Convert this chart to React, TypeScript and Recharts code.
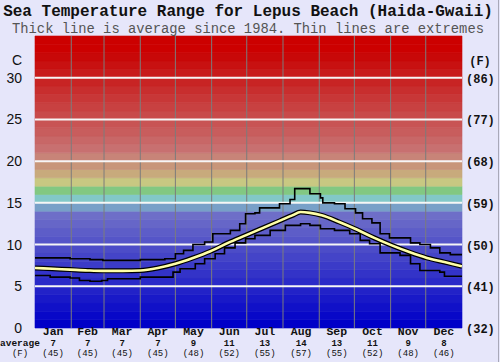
import { LineChart, Line, XAxis, YAxis, ReferenceArea, ReferenceLine } from 'recharts'

const MONTHS = ['Jan', 'Feb', 'Mar', 'Apr', 'May', 'Jun', 'Jul', 'Aug', 'Sep', 'Oct', 'Nov', 'Dec']
const MONTH_AVG_C = [7, 7, 7, 7, 9, 11, 13, 14, 13, 11, 9, 8]
const MONTH_AVG_F = [45, 45, 45, 45, 48, 52, 55, 57, 55, 52, 48, 46]
const MID_DAYS = [15.5, 45, 74.5, 105, 135.5, 166, 196.5, 227.5, 258, 288.5, 319, 349.5]
const MONTH_EDGES = [31, 59, 90, 120, 151, 181, 212, 243, 273, 304, 334]
const C_TICKS = [0, 5, 10, 15, 20, 25, 30]
const F_LABELS = ['(32)', '(41)', '(50)', '(59)', '(68)', '(77)', '(86)']

// day of year / deg C
const AVG_DAYS = [0, 15, 30, 45, 58, 75, 90, 105, 120, 135, 150, 165, 180, 195, 210, 220, 227, 235, 245, 260, 275, 290, 305, 320, 335, 350, 365]
const AVG_TEMP = [7.2, 7.1, 7.0, 6.9, 6.85, 6.85, 6.9, 7.2, 7.7, 8.4, 9.2, 10.2, 11.1, 12.0, 12.9, 13.5, 13.9, 13.8, 13.5, 12.7, 11.8, 10.8, 9.9, 9.1, 8.4, 7.9, 7.4]

const MAX_DAYS = [0, 21, 30, 47, 58, 90, 111, 120, 127, 135, 145, 152, 167, 175, 180, 188, 192, 209, 218, 222, 231, 235, 244, 246, 256, 265, 274, 280, 288, 295, 303, 321, 329, 338, 346, 355, 365]
const MAX_TEMP = [8.4, 8.4, 8.3, 8.2, 8.1, 8.2, 8.3, 8.9, 9.3, 10.0, 10.3, 11.3, 11.7, 12.5, 13.7, 13.8, 14.4, 14.9, 15.4, 16.7, 16.7, 16.1, 15.6, 15.0, 14.9, 14.3, 13.8, 13.1, 12.6, 11.3, 10.8, 10.2, 10.0, 9.6, 9.0, 8.8, 8.7]

const MIN_DAYS = [0, 13, 30, 38, 47, 57, 62, 90, 118, 124, 137, 145, 154, 162, 171, 180, 188, 201, 214, 227, 235, 244, 256, 269, 278, 286, 295, 312, 321, 329, 346, 350, 365]
const MIN_TEMP = [6.3, 6.1, 6.0, 5.7, 5.6, 5.7, 5.9, 6.1, 6.7, 7.1, 7.7, 8.3, 8.9, 9.6, 10.2, 10.7, 11.1, 11.7, 12.3, 12.5, 12.3, 11.9, 11.7, 11.3, 10.5, 10.1, 9.0, 8.7, 7.7, 6.9, 6.7, 6.2, 6.1]

const avgData = AVG_DAYS.map((d, i) => ({ d, t: AVG_TEMP[i] }))
const maxData = MAX_DAYS.map((d, i) => ({ d, t: MAX_TEMP[i] }))
const minData = MIN_DAYS.map((d, i) => ({ d, t: MIN_TEMP[i] }))

// background colour for each 1 degree band, 0..34
const hex = (n: number) => Math.max(0, Math.min(255, Math.round(n))).toString(16).padStart(2, '0')
const BANDS: string[] = []
for (let k = 0; k < 35; k++) {
  let c: string
  if (k <= 13) {
    const v = k * 110 / 13
    c = '#' + hex(v) + hex(v) + 'c8'
  } else if (k === 14) c = '#78a0c8'
  else if (k === 15) c = '#82c8c8'
  else if (k === 16) c = '#82c882'
  else if (k === 17) c = '#c8c882'
  else if (k === 18) c = '#c8aa7c'
  else if (k === 19) c = '#c8967a'
  else if (k === 20) c = '#c88478'
  else {
    const v = Math.max(0, 112 - (k - 21) * 9.5)
    c = (k >= 33 ? '#cc' : '#c8') + hex(v) + hex(v)
  }
  BANDS.push(c)
}

const MONO = '"Liberation Mono", "DejaVu Sans Mono", monospace'
const SANS = '"Liberation Sans", Arial, sans-serif'

function MonthTick({ x, payload }: any) {
  const i = MID_DAYS.indexOf(payload.value)
  if (i < 0) return null
  return (
    <g>
      <text x={x} y={335} textAnchor="middle" fontFamily={MONO} fontWeight="bold" fontSize={11.5} fill="#111">{MONTHS[i]}</text>
      <text x={x} y={345.5} textAnchor="middle" fontFamily={MONO} fontWeight="bold" fontSize={9} fill="#111">{MONTH_AVG_C[i]}</text>
      <text x={x} y={356} textAnchor="middle" fontFamily={MONO} fontSize={9} fill="#111">({MONTH_AVG_F[i]})</text>
    </g>
  )
}

function CTick({ y, payload }: any) {
  return (
    <text x={22} y={y + 5} textAnchor="end" fontFamily={SANS} fontSize={14} fill="#111">{payload.value}</text>
  )
}

function FTick({ y, payload }: any) {
  const i = C_TICKS.indexOf(payload.value)
  return (
    <text x={466} y={y + 5} textAnchor="start" fontFamily={MONO} fontWeight="bold" fontSize={12} fill="#111">{F_LABELS[i]}</text>
  )
}

export default function App() {
  return (
    <div style={{ position: 'absolute', left: 0, top: 0, width: 500, height: 362, background: '#e6e6fa', overflow: 'hidden' }}>
      <LineChart width={500} height={362} margin={{ top: 36, right: 0, bottom: 0, left: 0 }}>
        <XAxis dataKey="d" type="number" domain={[0, 365]} ticks={MID_DAYS} tick={<MonthTick />} axisLine={false} tickLine={false} height={34} interval={0} allowDataOverflow />
        <YAxis yAxisId="c" type="number" domain={[0, 35]} ticks={C_TICKS} tick={<CTick />} axisLine={false} tickLine={false} width={35} interval={0} allowDataOverflow />
        <YAxis yAxisId="f" orientation="right" type="number" domain={[0, 35]} ticks={C_TICKS} tick={<FTick />} axisLine={false} tickLine={false} width={38} interval={0} allowDataOverflow />
        {BANDS.map((c, k) => (
          <ReferenceArea key={k} yAxisId="c" y1={k} y2={k + 1} fill={c} fillOpacity={1} stroke={c} strokeWidth={0.6} />
        ))}
        {MONTH_EDGES.map(d => (
          <ReferenceLine key={'m' + d} yAxisId="c" x={d} stroke="#7c7c7c" strokeWidth={1} />
        ))}
        {C_TICKS.filter(v => v > 0).map(v => (
          <ReferenceLine key={'h' + v} yAxisId="c" y={v} stroke="#f6f6f6" strokeWidth={2} />
        ))}
        <Line yAxisId="c" data={maxData} dataKey="t" type="stepAfter" stroke="#000" strokeWidth={1.6} dot={false} isAnimationActive={false} />
        <Line yAxisId="c" data={minData} dataKey="t" type="stepAfter" stroke="#000" strokeWidth={1.6} dot={false} isAnimationActive={false} />
        <Line yAxisId="c" data={avgData} dataKey="t" type="monotone" stroke="#000" strokeWidth={5} dot={false} isAnimationActive={false} />
        <Line yAxisId="c" data={avgData} dataKey="t" type="monotone" stroke="#ffffa8" strokeWidth={2.6} dot={false} isAnimationActive={false} />
      </LineChart>
      <svg width={500} height={362} style={{ position: 'absolute', left: 0, top: 0, pointerEvents: 'none' }}>
        <text x={248} y={16} textAnchor="middle" fontFamily={MONO} fontWeight="bold" fontSize={16} fill="#111">Sea Temperature Range for Lepus Beach (Haida-Gwaii)</text>
        <text x={248} y={33} textAnchor="middle" fontFamily={MONO} fontSize={13.8} fill="#555">Thick line is average since 1984. Thin lines are extremes</text>
        <text x={17} y={65} textAnchor="middle" fontFamily={SANS} fontSize={14} fill="#111">C</text>
        <text x={480} y={65} textAnchor="middle" fontFamily={MONO} fontWeight="bold" fontSize={12} fill="#111">(F)</text>
        <text x={0} y={345.5} fontFamily={MONO} fontWeight="bold" fontSize={9.5} fill="#111">average</text>
        <text x={20} y={356} textAnchor="middle" fontFamily={MONO} fontSize={9} fill="#111">(F)</text>
        <line x1={498.5} y1={0} x2={498.5} y2={362} stroke="#a8a8b8" strokeWidth={1} />
      </svg>
    </div>
  )
}
